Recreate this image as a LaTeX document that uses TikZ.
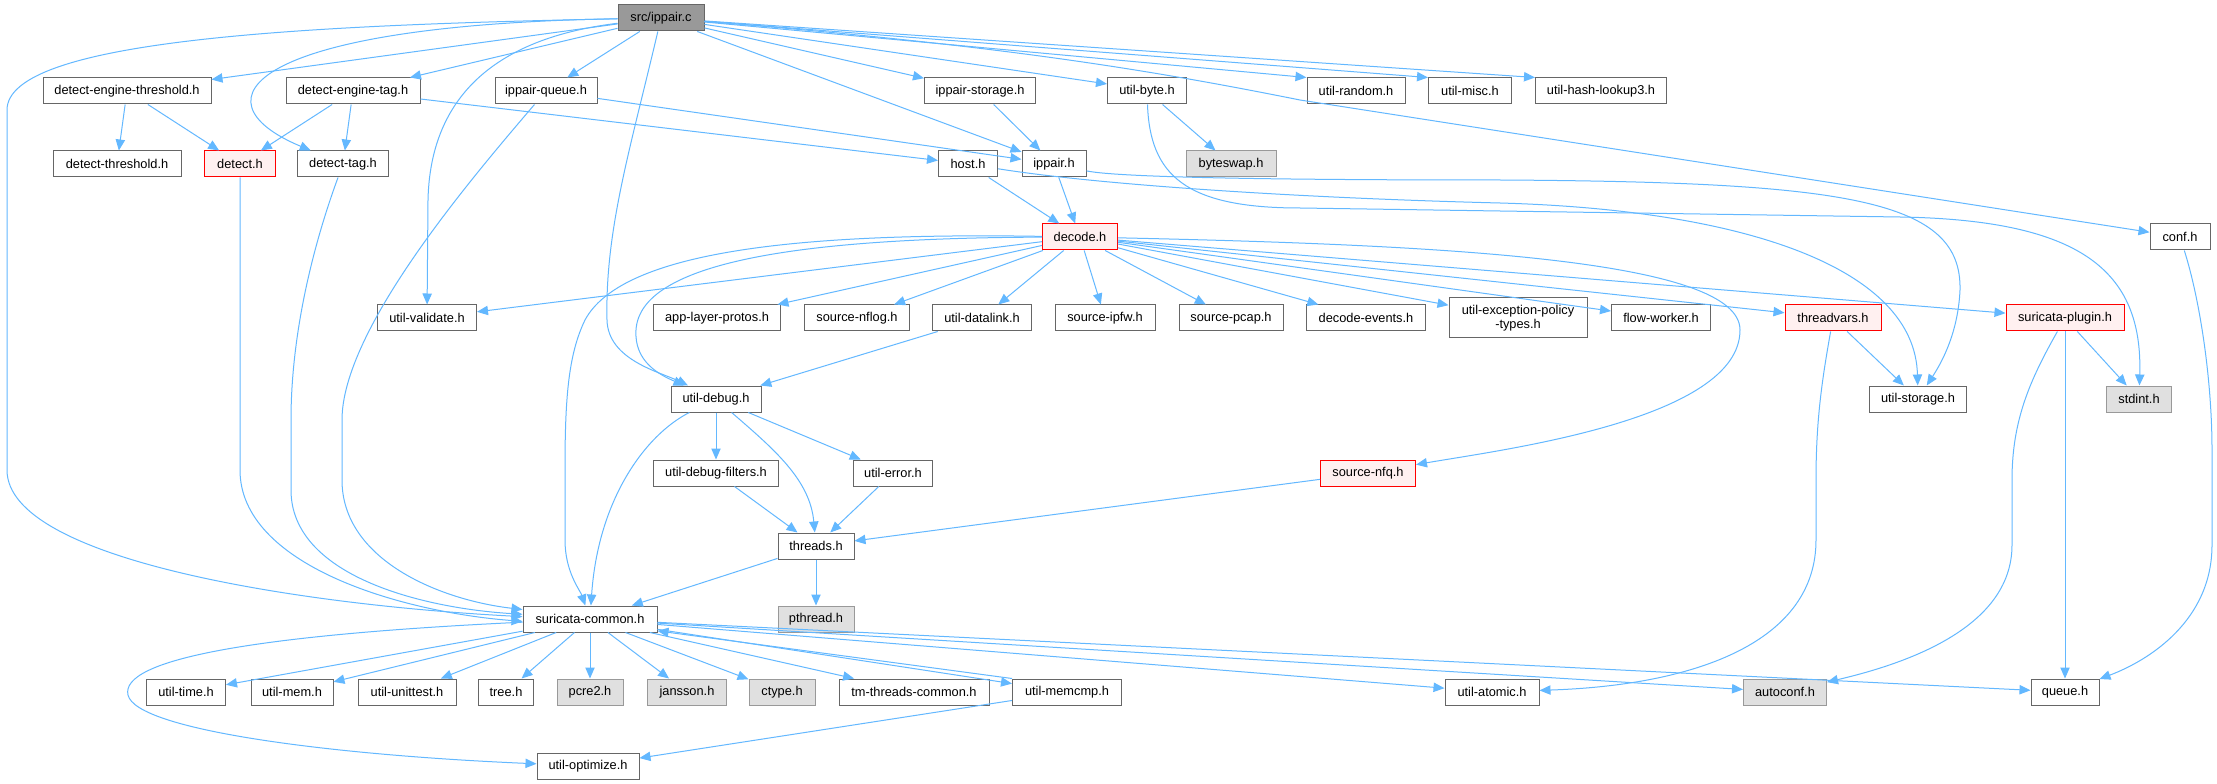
\documentclass[tikz,border=0pt]{standalone}
\usepackage{fontspec}
\setmainfont{Liberation Sans}
\usetikzlibrary{arrows.meta}
\definecolor{edgeblue}{HTML}{63B8FF}
\definecolor{nodedraw}{HTML}{666666}
\definecolor{graydraw}{HTML}{999999}
\definecolor{rootfill}{HTML}{999999}
\definecolor{redfill}{HTML}{FFF0F0}
\definecolor{grayfill}{HTML}{E0E0E0}
\tikzset{
  nb/.style={draw=nodedraw, fill=white, line width=0.75pt, inner sep=0pt,
    minimum height=19.5pt, align=center, font=\fontsize{9.6}{10.5}\selectfont},
  nred/.style={nb, draw=red, fill=redfill},
  ngray/.style={nb, draw=graydraw, fill=grayfill},
  nroot/.style={nb, draw=nodedraw, fill=rootfill},
  wd/.style={minimum width=#1*0.75pt},
  edg/.style={draw=edgeblue, line width=0.75pt, -{Triangle[length=8.25pt,width=7pt]}}
}
\begin{document}
\begin{tikzpicture}[x=0.75pt,y=-0.75pt]
\fill[white] (0,0) rectangle (2217,784);
\useasboundingbox (0,0) rectangle (2217,784);
% nodes
\node[nroot, wd=86] (root) at (661,18) {src/ippair.c};
\node[nb, wd=168] (det_eng_thr) at (127,91) {detect-engine-threshold.h};
\node[nb, wd=134] (det_eng_tag) at (353,91) {detect-engine-tag.h};
\node[nb, wd=102] (ippair_queue) at (546,91) {ippair-queue.h};
\node[nb, wd=111] (ippair_storage) at (980,91) {ippair-storage.h};
\node[nb, wd=79] (util_byte) at (1147,91) {util-byte.h};
\node[nb, wd=98] (util_random) at (1356,91) {util-random.h};
\node[nb, wd=83] (util_misc) at (1470,91) {util-misc.h};
\node[nb, wd=131] (util_hash) at (1601,91) {util-hash-lookup3.h};
\node[nb, wd=128] (det_thr) at (117,164) {detect-threshold.h};
\node[nred, wd=71] (detect) at (240,164) {detect.h};
\node[nb, wd=91] (det_tag) at (343,164) {detect-tag.h};
\node[nb, wd=59] (host) at (968,164) {host.h};
\node[nb, wd=64] (ippair) at (1054,164) {ippair.h};
\node[ngray, wd=90] (byteswap) at (1231,164) {byteswap.h};
\node[nred, wd=75] (decode) at (1080,237) {decode.h};
\node[nb, wd=60] (conf) at (2180,237) {conf.h};
\node[nb, wd=99] (util_validate) at (427,318) {util-validate.h};
\node[nb, wd=127] (app_layer) at (717,318) {app-layer-protos.h};
\node[nb, wd=105] (source_nflog) at (857,318) {source-nflog.h};
\node[nb, wd=99] (util_datalink) at (982,318) {util-datalink.h};
\node[nb, wd=100] (source_ipfw) at (1105,318) {source-ipfw.h};
\node[nb, wd=104] (source_pcap) at (1231,318) {source-pcap.h};
\node[nb, wd=119] (decode_events) at (1366,318) {decode-events.h};
\node[nb, wd=138, minimum height=30pt] (util_exc) at (1518,318) {util-exception-policy\\-types.h};
\node[nb, wd=99] (flow_worker) at (1661,318) {flow-worker.h};
\node[nred, wd=96] (threadvars) at (1833,318) {threadvars.h};
\node[nred, wd=118] (suricata_plugin) at (2065,318) {suricata-plugin.h};
\node[nb, wd=90] (util_debug) at (716,399) {util-debug.h};
\node[nb, wd=97] (util_storage) at (1918,399) {util-storage.h};
\node[ngray, wd=65] (stdint) at (2139,399) {stdint.h};
\node[nb, wd=125] (util_debug_filters) at (716,473) {util-debug-filters.h};
\node[nb, wd=79] (util_error) at (893,473) {util-error.h};
\node[nred, wd=95] (source_nfq) at (1368,473) {source-nfq.h};
\node[nb, wd=76] (threads) at (816,546) {threads.h};
\node[nb, wd=134] (suricata_common) at (590,619) {suricata-common.h};
\node[ngray, wd=76] (pthread) at (816,619) {pthread.h};
\node[nb, wd=79] (util_time) at (186,692) {util-time.h};
\node[nb, wd=82] (util_mem) at (292,692) {util-mem.h};
\node[nb, wd=98] (util_unittest) at (407,692) {util-unittest.h};
\node[nb, wd=55] (tree) at (506,692) {tree.h};
\node[ngray, wd=66] (pcre2) at (590,692) {pcre2.h};
\node[ngray, wd=79] (jansson) at (687,692) {jansson.h};
\node[ngray, wd=66] (ctype) at (782,692) {ctype.h};
\node[nb, wd=150] (tm_threads) at (914,692) {tm-threads-common.h};
\node[nb, wd=109] (util_memcmp) at (1067,692) {util-memcmp.h};
\node[nb, wd=94] (util_atomic) at (1492,692) {util-atomic.h};
\node[ngray, wd=83] (autoconf) at (1785,692) {autoconf.h};
\node[nb, wd=68] (queue) at (2065,692) {queue.h};
\node[nb, wd=102] (util_optimize) at (588,766) {util-optimize.h};
% edges from src/ippair.c
\draw[edg] (root) -- (det_eng_thr);
\draw[edg] (root) -- (det_eng_tag);
\draw[edg] (root) -- (ippair_queue);
\draw[edg] (root) .. controls (250,25) and (190,100) .. (det_tag);
\draw[edg] (root) .. controls (300,25) and (7,40) .. (7,110) -- (7,470) .. controls (7,560) and (300,605) .. (suricata_common.178);
\draw[edg] (root) .. controls (480,40) and (430,110) .. (428,200) -- (util_validate);
\draw[edg] (root) .. controls (630,150) and (605,230) .. (607,320) .. controls (608,360) and (660,372) .. (util_debug);
\draw[edg] (root) -- (ippair);
\draw[edg] (root) -- (ippair_storage);
\draw[edg] (root) -- (util_byte.170);
\draw[edg] (root) -- (util_random.north west);
\draw[edg] (root) -- (util_misc.north west);
\draw[edg] (root) -- (util_hash.north west);
\draw[edg] (root) .. controls (1000,45) and (1150,70) .. (1300,100) -- (conf);
% second level
\draw[edg] (det_eng_thr) -- (det_thr);
\draw[edg] (det_eng_thr) -- (detect);
\draw[edg] (det_eng_tag) -- (detect);
\draw[edg] (det_eng_tag) -- (det_tag);
\draw[edg] (det_eng_tag) -- (host);
\draw[edg] (ippair_queue) -- (ippair);
\draw[edg] (ippair_queue) .. controls (470,180) and (342,330) .. (342,420) -- (342,480) .. controls (342,560) and (440,600) .. (suricata_common.172);
\draw[edg] (ippair_storage) -- (ippair);
\draw[edg] (util_byte) -- (byteswap);
\draw[edg] (util_byte) .. controls (1150,175) and (1185,208) .. (1300,208) -- (1900,217) .. controls (2080,220) and (2143,270) .. (stdint);
\draw[edg] (detect) -- (240,470) .. controls (240,565) and (400,612) .. (suricata_common.182);
\draw[edg] (det_tag) .. controls (315,240) and (291,330) .. (291,420) -- (291,490) .. controls (291,575) and (420,608) .. (suricata_common.176);
\draw[edg] (host) -- (decode);
\draw[edg] (ippair) -- (decode);
\draw[edg] (host) .. controls (1100,185) and (1300,198) .. (1500,203) .. controls (1750,210) and (1915,270) .. (util_storage);
\draw[edg] (ippair) .. controls (1120,178) and (1300,180) .. (1500,180) .. controls (1850,182) and (1962,200) .. (1960,290) .. controls (1958,335) and (1940,365) .. (util_storage);
% decode.h
\draw[edg] (decode) -- (util_validate);
\draw[edg] (decode) -- (app_layer);
\draw[edg] (decode) -- (source_nflog);
\draw[edg] (decode) -- (util_datalink);
\draw[edg] (decode) -- (source_ipfw);
\draw[edg] (decode) -- (source_pcap);
\draw[edg] (decode) -- (decode_events);
\draw[edg] (decode) -- (util_exc);
\draw[edg] (decode) -- (flow_worker);
\draw[edg] (decode) -- (threadvars);
\draw[edg] (decode) -- (suricata_plugin);
\draw[edg] (decode) .. controls (1450,245) and (1740,260) .. (1740,330) .. controls (1740,420) and (1500,450) .. (source_nfq);
\draw[edg] (decode) .. controls (800,238) and (640,262) .. (636,330) .. controls (634,362) and (660,375) .. (util_debug);
\draw[edg] (decode) .. controls (780,232) and (620,255) .. (585,320) .. controls (568,355) and (565,400) .. (565,470) -- (565,540) .. controls (565,572) and (580,590) .. (suricata_common);
% lower part
\draw[edg] (util_datalink) -- (util_debug);
\draw[edg] (util_debug) -- (util_debug_filters);
\draw[edg] (util_debug) -- (util_error);
\draw[edg] (util_debug) .. controls (775,450) and (810,480) .. (threads);
\draw[edg] (util_debug) .. controls (645,435) and (598,500) .. (suricata_common);
\draw[edg] (util_debug_filters) -- (threads);
\draw[edg] (util_error) -- (threads);
\draw[edg] (source_nfq) -- (threads);
\draw[edg] (threads) -- (suricata_common);
\draw[edg] (threads) -- (pthread);
\draw[edg] (threadvars) -- (util_storage);
\draw[edg] (threadvars) .. controls (1822,380) and (1816,420) .. (1816,480) -- (1816,540) .. controls (1816,640) and (1700,685) .. (util_atomic);
\draw[edg] (suricata_plugin) -- (stdint);
\draw[edg] (suricata_plugin) -- (queue);
\draw[edg] (suricata_plugin) .. controls (2030,380) and (2012,420) .. (2012,480) -- (2012,545) .. controls (2012,630) and (1900,665) .. (autoconf);
\draw[edg] (conf) .. controls (2200,300) and (2212,380) .. (2212,450) -- (2212,545) .. controls (2212,620) and (2150,660) .. (queue);
% suricata-common.h
\draw[edg] (suricata_common) -- (util_time);
\draw[edg] (suricata_common) -- (util_mem);
\draw[edg] (suricata_common) -- (util_unittest);
\draw[edg] (suricata_common) -- (tree);
\draw[edg] (suricata_common) -- (pcre2);
\draw[edg] (suricata_common) -- (jansson);
\draw[edg] (suricata_common) -- (ctype);
\draw[edg] (suricata_common) -- (tm_threads);
\draw[edg] (suricata_common) -- (util_memcmp);
\draw[edg] (suricata_common) -- (util_atomic);
\draw[edg] (suricata_common) -- (autoconf);
\draw[edg] (suricata_common) -- (queue);
\draw[edg] (suricata_common) .. controls (250,635) and (120,660) .. (128,695) .. controls (136,730) and (330,755) .. (util_optimize);
\draw[edg] (util_memcmp.north west) -- (suricata_common.-10);
\draw[edg] (util_memcmp) -- (util_optimize);
\end{tikzpicture}
\end{document}
